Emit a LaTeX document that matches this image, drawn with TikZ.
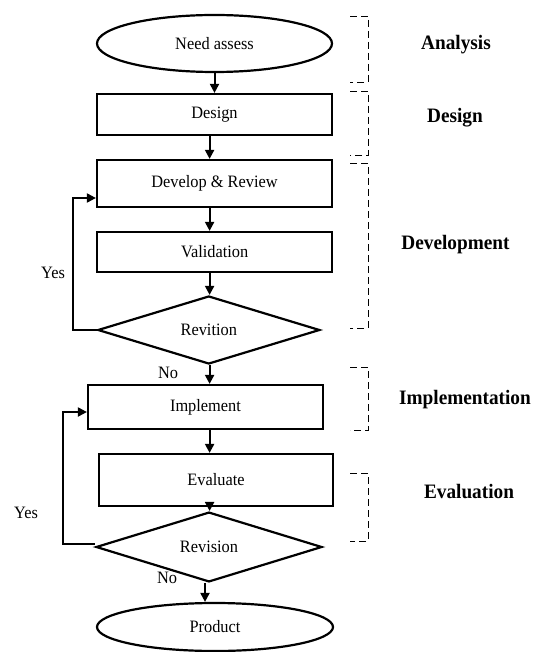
\documentclass[tikz,border=0pt]{standalone}
\usepackage{fontspec}
\setmainfont[FakeStretch=0.94]{Liberation Serif}
\usetikzlibrary{shapes.geometric,arrows.meta}

\tikzset{
  boxtext/.style={font=\fontsize{17.4}{20}\selectfont},
  stepbox/.style={boxtext, draw, line width=2.2pt, rectangle, inner sep=0pt},
  terminal/.style={boxtext, draw, line width=2.2pt, ellipse, inner sep=0pt},
  decision/.style={boxtext, draw, line width=2.2pt, diamond, inner sep=0pt},
  arr/.style={line width=2pt, -{Triangle[length=9pt,width=9pt]}},
  loopline/.style={line width=2pt, -{Triangle[length=9pt,width=9pt]}},
  phase/.style={font=\fontsize{20.5}{24}\selectfont\bfseries},
  answer/.style={boxtext},
  brk/.style={line width=0.9pt, dash pattern=on 7pt off 4pt},
}

\begin{document}
\begin{tikzpicture}[x=1pt,y=-1pt]
\useasboundingbox (0,0) rectangle (537,652);

% process steps
\node[terminal, minimum width=235pt, minimum height=57pt] (need) at (214.5,43.5) {Need assess};
\node[stepbox, minimum width=235pt, minimum height=41pt] (design) at (214.5,114.5) {Design};
\node[stepbox, minimum width=235pt, minimum height=47pt] (dev) at (214.5,183.5) {Develop \& Review};
\node[stepbox, minimum width=235pt, minimum height=40pt] (valid) at (214.7,252) {Validation};
\node[decision, minimum width=222pt, minimum height=60pt] (rev1) at (208.8,330) {Revition};
\node[stepbox, minimum width=235pt, minimum height=44pt] (impl) at (205.5,407) {Implement};
\node[stepbox, minimum width=234pt, minimum height=52pt] (eval) at (216,480) {Evaluate};
\node[decision, minimum width=226pt, minimum height=58pt] (rev2) at (209,547) {Revision};
\node[terminal, minimum width=236pt, minimum height=48pt] (prod) at (215,627) {Product};

% vertical guides for the main flow
\coordinate (spine) at (209.6,0);
\coordinate (spineB) at (205,0);
\coordinate (loopA) at (73,0);
\coordinate (loopB) at (63,0);

% main flow
\draw[arr] (need.south) -- (design.north);
\draw[arr] (spine |- design.south) -- (spine |- dev.north);
\draw[arr] (spine |- dev.south) -- (spine |- valid.north);
\draw[arr] (spine |- valid.south) -- (spine |- rev1.north);
\draw[arr] (spine |- rev1.south) -- (spine |- impl.north);
\draw[arr] (spine |- impl.south) -- (spine |- eval.north);
\draw[arr] (spine |- eval.south) -- (spine |- rev2.north);
\draw[arr] (spineB |- rev2.south) -- (spineB |- prod.north);

% revision loops
\draw[loopline] (rev1.west) -- (rev1.west -| loopA) |- ([yshift=-14.5pt]dev.west);
\draw[loopline] ([yshift=3pt]rev2.west) -- ([yshift=3pt]rev2.west -| loopB) |- ([yshift=-5pt]impl.west);

% branch labels
\node[answer] (yes1) at (53,273) {Yes};
\node[answer] (no1) at (168,373) {No};
\node[answer] (yes2) at (26,513) {Yes};
\node[answer] (no2) at (167,578) {No};

% phase brackets
\draw[brk] (350,16) -| (368,82) -- (350,82);
\draw[brk] (350,91) -| (368,155) -- (350,155);
\draw[brk] (350,163) -| (368,328) -- (350,328);
\draw[brk] (350,367) -| (368,430) -- (350,430);
\draw[brk] (350,473) -| (368,541) -- (350,541);

% phase names
\node[phase] (pa) at (456,45) {Analysis};
\node[phase] (pd) at (455,118) {Design};
\node[phase] (pv) at (455.5,245) {Development};
\node[phase] (pi) at (465,400) {Implementation};
\node[phase] (pe) at (469,492) {Evaluation};
\end{tikzpicture}
\end{document}
